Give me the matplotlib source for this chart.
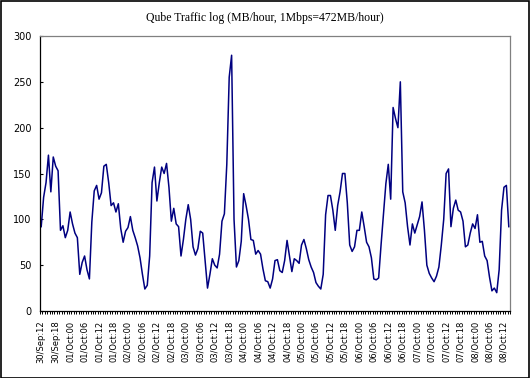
import matplotlib
matplotlib.use('Agg')
import matplotlib.pyplot as plt
from matplotlib.patches import Rectangle
import numpy as np

# hourly traffic, 30/Sep 12:00 -> 08/Oct 14:00 (MB/hour)
traffic = [
    92, 124, 140, 170, 130, 168, 158, 153, 88, 93,
    80, 88, 108, 95, 85, 80, 40, 53, 60,
    45, 35, 97, 131, 137, 122, 129, 158, 160, 140,
    115, 118, 108, 117, 90, 75, 87, 91, 103, 88,
    80, 71, 58, 40, 24, 28, 60, 140, 157, 120,
    140, 157, 150, 161, 135, 98, 112, 95, 92,
    60, 78, 100, 116, 100, 70, 61, 68, 87, 85,
    55, 25, 40, 57, 50, 47, 62, 98, 106, 160,
    255, 279, 100, 48, 55, 76, 128, 115, 100,
    78, 77, 62, 66, 62, 46, 33, 32, 25, 35,
    55, 56, 44, 42, 55, 77, 60, 43, 57, 55,
    52, 72, 78, 68, 56, 48, 42, 31, 27,
    24, 40, 105, 126, 126, 110, 88, 115, 130, 150,
    150, 118, 72, 65, 70, 88, 88, 108, 92, 75,
    70, 58, 35, 34, 36, 72, 105, 139, 160,
    122, 222, 210, 200, 250, 130, 118, 92, 72, 95,
    85, 94, 103, 119, 88, 50, 41, 36, 32, 38,
    48, 72, 100, 150, 155, 92, 112, 121, 110,
    108, 98, 70, 72, 85, 95, 90, 105, 75, 76,
    60, 55, 37, 22, 25, 20, 45, 110, 135, 137,
    92,
]

days = ['30/Sep'] * 2 + ['01/Oct'] * 4 + ['02/Oct'] * 4 + ['03/Oct'] * 4 + ['04/Oct'] * 4 + \
       ['05/Oct'] * 4 + ['06/Oct'] * 4 + ['07/Oct'] * 4 + ['08/Oct'] * 3
hours = ['12', '18'] + ['00', '06', '12', '18'] * 7 + ['00', '06', '12']
tick_labels = [d + ':' + h for d, h in zip(days, hours)]

y_ticks = [0, 50, 100, 150, 200, 250, 300]

n = len(traffic)
x = np.arange(n)

fig = plt.figure(figsize=(5.3, 3.78), dpi=100)
ax = fig.add_axes([40 / 530, 1 - 311 / 378, 470 / 530, 275 / 378])

ax.plot(x, traffic, color='#000080', linewidth=1.1)

ax.set_xlim(-0.5, n - 0.5)
ax.set_ylim(0, 300)

# category labels every 6 hours, small tick at every category boundary
ax.set_xticks(np.arange(0, 6 * len(tick_labels), 6))
ax.set_xticklabels(tick_labels, rotation=90, fontsize=6, family='DejaVu Sans')
ax.set_xticks(np.arange(-0.5, n, 1), minor=True)
ax.tick_params(axis='x', which='major', length=0, pad=7)
ax.tick_params(axis='x', which='minor', length=2.2, direction='out', width=0.7)

ax.set_yticks(y_ticks)
ax.set_yticklabels([str(v) for v in y_ticks], fontsize=7, family='DejaVu Sans')
ax.tick_params(axis='y', length=2.5, direction='in', width=0.8, pad=6)

for s in ['top', 'right']:
    ax.spines[s].set_color('#808080')
for s in ['left', 'bottom']:
    ax.spines[s].set_color('black')
for s in ax.spines.values():
    s.set_linewidth(0.9)

fig.text(0.5, 1 - 18 / 378, 'Qube Traffic log (MB/hour, 1Mbps=472MB/hour)',
         ha='center', va='center', fontsize=8.5, family='Liberation Serif')

# outer frame of the chart
fig.patches.append(Rectangle((0.001, 0.001), 0.997, 0.996, transform=fig.transFigure,
                             fill=False, edgecolor='black', linewidth=1.2))

fig.savefig('out.png', dpi=100)
plt.close()
